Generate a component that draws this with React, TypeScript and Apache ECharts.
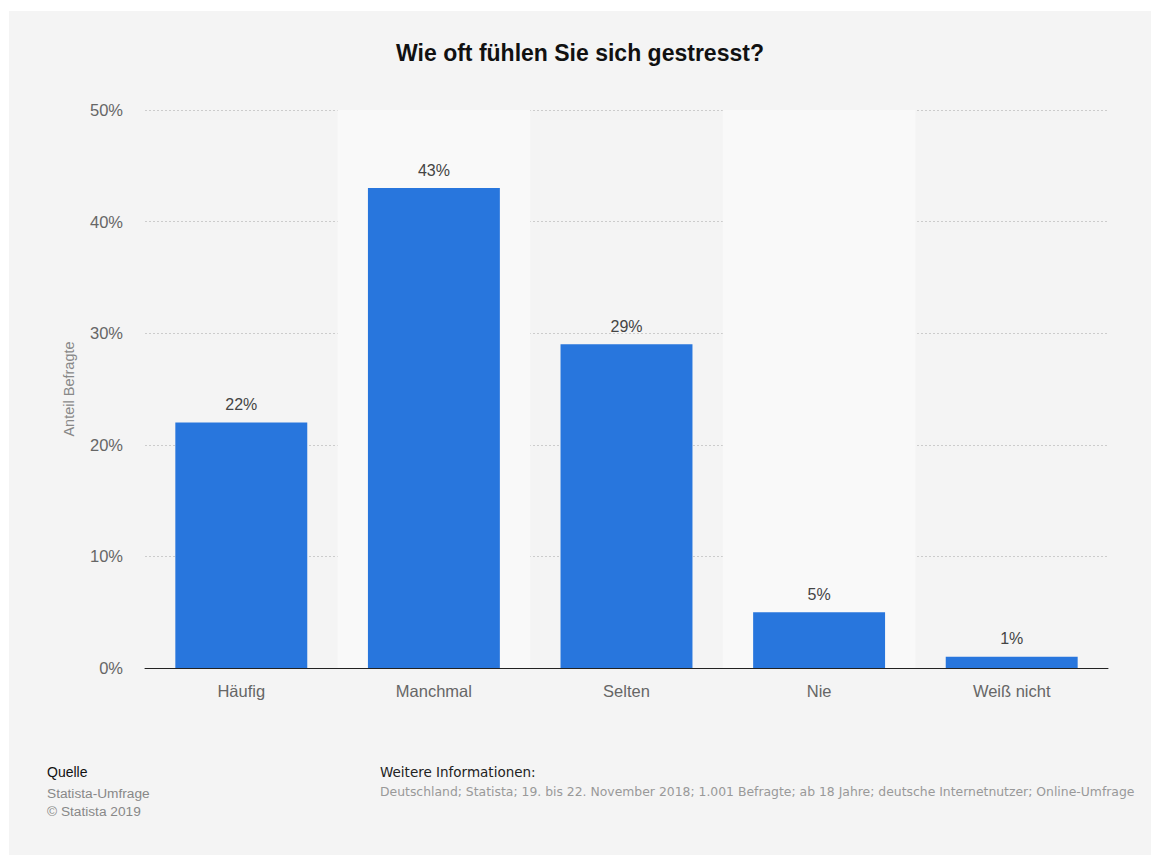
import React, { useEffect, useRef } from "react";
import * as echarts from "echarts";

const categories = ["Häufig", "Manchmal", "Selten", "Nie", "Weiß nicht"];
const values = [22, 43, 29, 5, 1];
const yTicks = { min: 0, max: 50, interval: 10 };
const titleText = "Wie oft fühlen Sie sich gestresst?";
const yAxisName = "Anteil Befragte";
const sourceLines = ["Statista-Umfrage", "© Statista 2019"];
const infoText =
  "Deutschland; Statista; 19. bis 22. November 2018; 1.001 Befragte; ab 18 Jahre; deutsche Internetnutzer; Online-Umfrage";

const FONT = "'Liberation Sans', Arial, Helvetica, sans-serif";
const WIDE = "'DejaVu Sans', 'Liberation Sans', sans-serif";

export default function App() {
  const ref = useRef<HTMLDivElement>(null);
  useEffect(() => {
    if (!ref.current) return;
    const chart = echarts.init(ref.current, null, { renderer: "svg" });
    chart.setOption({
      animation: false,
      backgroundColor: "#f4f4f4",
      textStyle: { fontFamily: FONT },
      title: {
        text: titleText,
        left: "center",
        top: 25,
        textStyle: { fontFamily: FONT, fontSize: 23, fontWeight: "bold", color: "#111" },
      },
      grid: { left: 136, right: 43, top: 99, bottom: 187, containLabel: false },
      xAxis: {
        type: "category",
        data: categories,
        axisLine: { show: true, lineStyle: { color: "#222", width: 1 } },
        axisTick: { show: false },
        axisLabel: { color: "#666", fontSize: 16.5, margin: 14, fontFamily: FONT },
        splitArea: { show: true, areaStyle: { color: ["rgba(0,0,0,0)", "#f9f9f9"] } },
      },
      yAxis: {
        type: "value",
        min: yTicks.min,
        max: yTicks.max,
        interval: yTicks.interval,
        name: yAxisName,
        nameLocation: "middle",
        nameRotate: 90,
        nameGap: 69,
        nameTextStyle: { color: "#888", fontSize: 14.5, fontFamily: FONT },
        axisLine: { show: false },
        axisTick: { show: false },
        axisLabel: { formatter: "{value}%", color: "#666", fontSize: 16.5, margin: 22, fontFamily: FONT },
        splitLine: { show: true, lineStyle: { color: "#cccccc", type: [2, 2], width: 1 } },
      },
      series: [
        {
          type: "bar",
          data: values,
          barCategoryGap: "31.5%",
          itemStyle: { color: "#2876dd" },
          label: {
            show: true,
            position: "top",
            distance: 10,
            formatter: "{c}%",
            color: "#444",
            fontSize: 16,
            fontFamily: FONT,
          },
        },
      ],
      graphic: [
        {
          type: "text",
          left: 38,
          top: 754,
          style: { text: "Quelle", fill: "#111", fontSize: 14, fontFamily: FONT },
        },
        {
          type: "text",
          left: 38,
          top: 773,
          style: { text: sourceLines.join("\n"), fill: "#888", fontSize: 13.7, lineHeight: 18, fontFamily: FONT },
        },
        {
          type: "text",
          left: 371,
          top: 754,
          style: { text: "Weitere Informationen:", fill: "#222", fontSize: 13.5, fontFamily: WIDE },
        },
        {
          type: "text",
          left: 371,
          top: 774,
          style: { text: infoText, fill: "#999", fontSize: 12.4, fontFamily: WIDE },
        },
      ],
    });
    return () => chart.dispose();
  }, []);
  return (
    <div
      ref={ref}
      style={{ position: "fixed", left: 9, top: 11, width: 1142, height: 844 }}
    />
  );
}
